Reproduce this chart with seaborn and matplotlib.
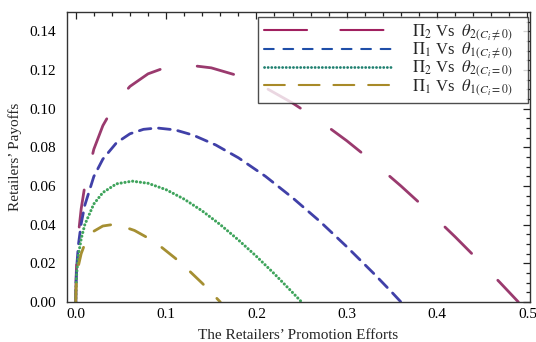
import numpy as np
import pandas as pd
import matplotlib
matplotlib.use("Agg")
import matplotlib.pyplot as plt
import seaborn as sns

# Promotion effort (x) and retailer payoff (y) for each scenario
x_pi2_c = [0, 0.0002, 0.001, 0.003, 0.006, 0.01, 0.02, 0.03, 0.045, 0.06, 0.08, 0.1, 0.125,
           0.15, 0.18, 0.21, 0.24, 0.27, 0.30, 0.33, 0.36, 0.39, 0.42, 0.45, 0.47, 0.49]
y_pi2_c = [0, 0.0097, 0.0211, 0.0353, 0.0482, 0.0600, 0.0790, 0.0912, 0.1035, 0.1115, 0.1180,
           0.1214, 0.1225, 0.1211, 0.1170, 0.1108, 0.1029, 0.0937, 0.0834, 0.0721, 0.0600,
           0.0472, 0.0337, 0.0196, 0.0099, 0]

x_pi1_c = [0, 0.0002, 0.001, 0.003, 0.006, 0.01, 0.02, 0.03, 0.045, 0.06, 0.075, 0.09, 0.11,
           0.13, 0.155, 0.18, 0.21, 0.24, 0.27, 0.30, 0.33, 0.35, 0.36]
y_pi1_c = [0, 0.0083, 0.0180, 0.0299, 0.0405, 0.0500, 0.0649, 0.0739, 0.0823, 0.0870, 0.0893,
           0.0900, 0.0890, 0.0863, 0.0812, 0.0746, 0.0650, 0.0539, 0.0418, 0.0286, 0.0147,
           0.0050, 0]

x_pi2_0 = [0, 0.0002, 0.001, 0.003, 0.006, 0.01, 0.02, 0.03, 0.045, 0.0625, 0.08, 0.1, 0.12,
           0.14, 0.16, 0.18, 0.20, 0.22, 0.24, 0.25]
y_pi2_0 = [0, 0.0069, 0.0148, 0.0244, 0.0327, 0.0400, 0.0507, 0.0566, 0.0611, 0.0625, 0.0614,
           0.0581, 0.0532, 0.0471, 0.0400, 0.0321, 0.0236, 0.0145, 0.0049, 0]

x_pi1_0 = [0, 0.0002, 0.001, 0.003, 0.006, 0.01, 0.02, 0.03, 0.04, 0.05, 0.065, 0.08, 0.095,
           0.11, 0.125, 0.14, 0.15, 0.16]
y_pi1_0 = [0, 0.0055, 0.0116, 0.0189, 0.0250, 0.0300, 0.0366, 0.0393, 0.0400, 0.0394, 0.0370,
           0.0331, 0.0283, 0.0227, 0.0164, 0.0097, 0.0049, 0]

labels = [r"$\Pi_2$ Vs  $\theta_{2(C_i\neq0)}$",
          r"$\Pi_1$ Vs  $\theta_{1(C_i\neq0)}$",
          r"$\Pi_2$ Vs  $\theta_{2(C_i=0)}$",
          r"$\Pi_1$ Vs  $\theta_{1(C_i=0)}$"]
# a little room after each label, as in the boxed legend
labels = [lab + "\u00a0\u00a0\u00a0" for lab in labels]

x_ticks = [0.0, 0.1, 0.2, 0.3, 0.4, 0.5]
y_ticks = [0.00, 0.02, 0.04, 0.06, 0.08, 0.10, 0.12, 0.14]

sns.set_style("white")
plt.rcParams["font.family"] = ["Liberation Serif", "DejaVu Serif"]
plt.rcParams["mathtext.fontset"] = "stix"
plt.rcParams["lines.scale_dashes"] = False

fig = plt.figure(figsize=(5.36, 3.42), dpi=100)
ax = fig.add_axes([0.125, 0.117, 0.864, 0.848])

series = [
    (x_pi2_c, y_pi2_c, "#9a3a6e", (0, (27, 27)), 2.0, "#a0205f", (0, (31, 24)), 1.5),
    (x_pi1_c, y_pi1_c, "#4040a8", (0, (8.5, 5.5)), 2.0, "#1f4ea8", (0, (7, 7)), 1.5),
    (x_pi2_0, y_pi2_0, "#3fa45c", (0, (0.1, 2.7)), 2.2, "#208070", (0, (0.1, 2.5)), 2.0),
    (x_pi1_0, y_pi1_0, "#a58f32", (0, (13, 14)), 2.0, "#a88a28", (0, (15, 10)), 1.5),
]

for (xs, ys, col, dash, lw, _, _, _), lab in zip(series, labels):
    df = pd.DataFrame({"effort": xs, "payoff": ys})
    sns.lineplot(data=df, x="effort", y="payoff", ax=ax, color=col, linewidth=lw,
                 sort=False, label=lab, estimator=None)
    line = ax.lines[-1]
    line.set_linestyle(dash)
    line.set_dash_capstyle("round")
    line.set_solid_capstyle("round")

ax.set_xlim(-0.0097, 0.503)
ax.set_ylim(0, 0.15)
ax.set_xticks(x_ticks)
ax.set_xticklabels([f"{v:.1f}" for v in x_ticks])
ax.set_yticks(y_ticks)
ax.set_yticklabels([f"{v:.2f}" for v in y_ticks])
ax.set_xticks(np.arange(0, 0.503, 0.02), minor=True)
ax.set_yticks(np.arange(0, 0.15, 0.005), minor=True)
ax.tick_params(which="both", direction="in", top=True, right=True, colors="#222222",
               labelcolor="black", labelsize=11, width=0.9)
ax.tick_params(which="major", length=5)
ax.tick_params(which="minor", length=3)
ax.tick_params(axis="y", which="major", pad=8)
ax.tick_params(axis="x", which="major", pad=4)
for sp in ax.spines.values():
    sp.set_color("#333333")
    sp.set_linewidth(1.0)

ax.set_xlabel("The Retailers\u2019 Promotion Efforts", fontsize=11, labelpad=6)
ax.set_ylabel("Retailers\u2019 Payoffs", fontsize=11, labelpad=5)

leg = ax.legend(loc="upper right", bbox_to_anchor=(0.996, 0.983), borderaxespad=0,
                fontsize=12, handlelength=7.7, handletextpad=1.2, labelspacing=-0.12,
                borderpad=0.35, frameon=True, fancybox=False, edgecolor="#222222")
leg.get_frame().set_linewidth(1.0)
for hl, s in zip(leg.get_lines(), series):
    hl.set_color(s[5])
    hl.set_linestyle(s[6])
    hl.set_linewidth(s[7])

fig.savefig("out.png", dpi=100)
